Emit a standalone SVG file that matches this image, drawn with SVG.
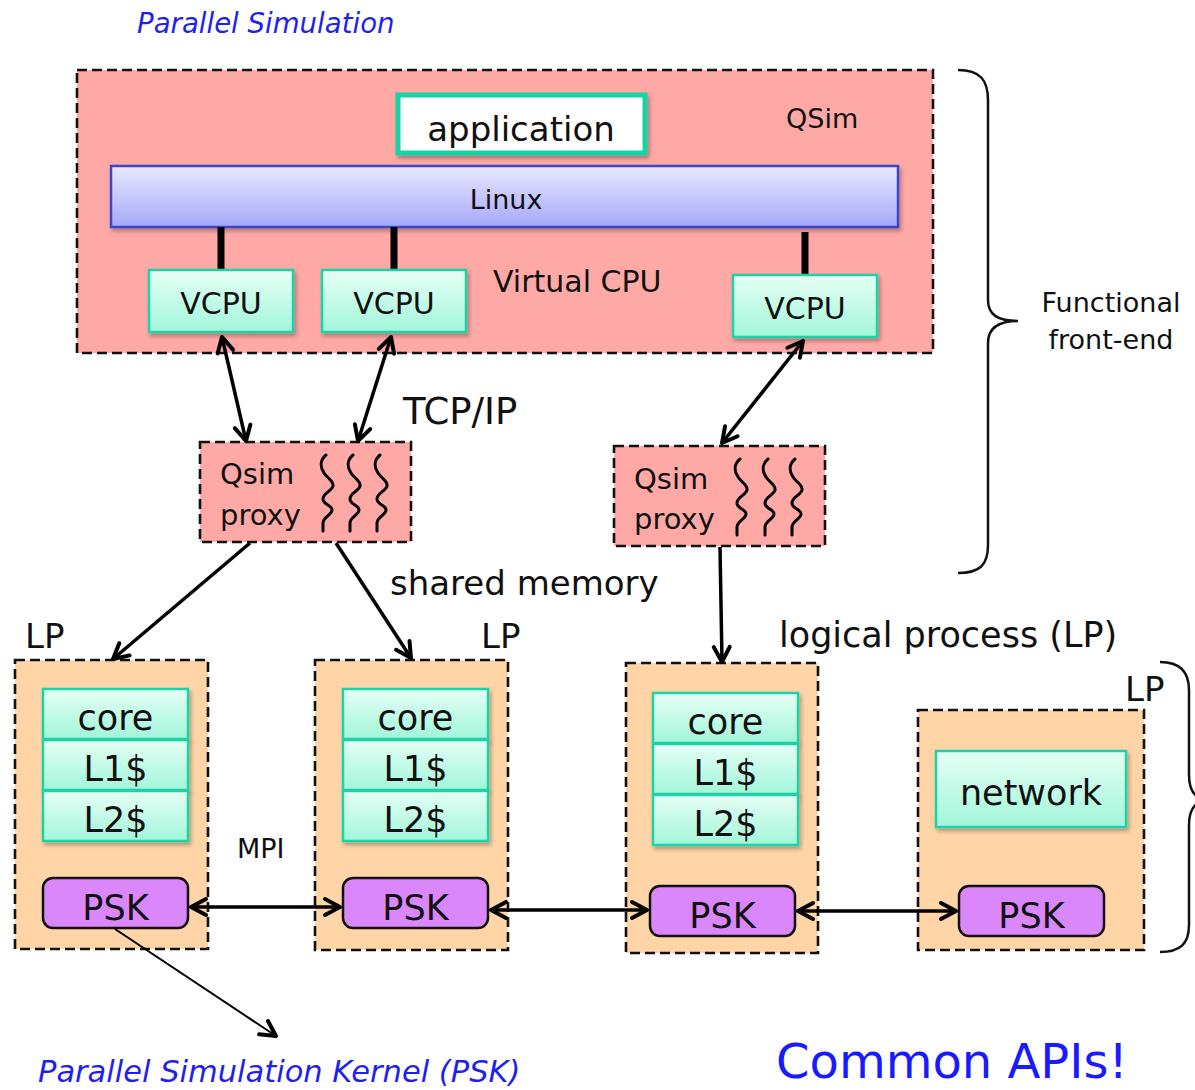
<svg xmlns="http://www.w3.org/2000/svg" width="1195" height="1090" viewBox="0 0 1195 1090">
  <defs>
    <style>
      text { font-family: "DejaVu Sans", Verdana, sans-serif; fill: #111; }
      .blue { fill: #1f1ff0; font-style: italic; }
      .dash { stroke: #111; stroke-width: 2.6; stroke-dasharray: 10 5; }
      .qsim { fill: #ffa9a6; }
      .lp { fill: #ffd5a8; }
      .mint { fill: url(#mintGrad); stroke: #1ed3a8; stroke-width: 2.5; filter: url(#shadow); }
      .psk { fill: #d987fa; stroke: #111; stroke-width: 2.5; }
      .conn { stroke: #000; stroke-width: 3.5; fill: none; }
      .squig { stroke: #000; stroke-width: 3; fill: none; stroke-linecap: round; }
      .brace { stroke: #111; stroke-width: 2.5; fill: none; }
      .mid { text-anchor: middle; }
    </style>
    <linearGradient id="mintGrad" x1="0" y1="0" x2="0" y2="1">
      <stop offset="0" stop-color="#e6fff5"/>
      <stop offset="1" stop-color="#a2f6da"/>
    </linearGradient>
    <linearGradient id="linuxGrad" x1="0" y1="0" x2="0" y2="1">
      <stop offset="0" stop-color="#e8e8ff"/>
      <stop offset="1" stop-color="#a6a8f8"/>
    </linearGradient>
    <filter id="shadow" x="-10%" y="-10%" width="130%" height="140%">
      <feDropShadow dx="2" dy="3" stdDeviation="2" flood-color="#000" flood-opacity="0.3"/>
    </filter>
    <marker id="arr" viewBox="0 0 22 22" refX="19" refY="11" markerWidth="22" markerHeight="22" markerUnits="userSpaceOnUse" orient="auto-start-reverse">
      <path d="M4,3 L19,11 L4,19" fill="none" stroke="#000" stroke-width="4" stroke-linecap="round" stroke-linejoin="round"/>
    </marker>
    <path id="squiggle" d="M3,0 C-3,5 -3,12 1,18 C5,24 11,26 10,31 C9,36 0,38 0,44 C0,50 9,50 9,55 C9,60 0,62 0,68 L0,76" class="squig"/>
  </defs>

  <text class="blue" x="137" y="33" font-size="27.6">Parallel Simulation</text>

  <!-- QSim host -->
  <g id="qsim">
    <rect class="qsim dash" x="77" y="70" width="856" height="283"/>
    <text x="786" y="128" font-size="27">QSim</text>
    <text x="493" y="292" font-size="30">Virtual CPU</text>
  </g>
  <g id="application">
    <rect x="398" y="95" width="247" height="58" fill="#fff" stroke="#14d3a6" stroke-width="5" filter="url(#shadow)"/>
    <text class="mid" x="521" y="141" font-size="34">application</text>
  </g>
  <g id="linux">
    <rect x="111" y="166" width="787" height="61" fill="url(#linuxGrad)" stroke="#3a46c8" stroke-width="2.5" filter="url(#shadow)"/>
    <text class="mid" x="506" y="209" font-size="27">Linux</text>
  </g>
  <g id="bus" stroke="#000" stroke-width="7">
    <line x1="221" y1="227" x2="221" y2="270"/>
    <line x1="394" y1="227" x2="394" y2="270"/>
    <line x1="805" y1="232" x2="805" y2="275"/>
  </g>
  <g id="vcpu1">
    <rect class="mint" x="149" y="270" width="144" height="62"/>
    <text class="mid" x="221" y="314" font-size="30">VCPU</text>
  </g>
  <g id="vcpu2">
    <rect class="mint" x="322" y="270" width="144" height="62"/>
    <text class="mid" x="394" y="314" font-size="30">VCPU</text>
  </g>
  <g id="vcpu3">
    <rect class="mint" x="733" y="275" width="144" height="62"/>
    <text class="mid" x="805" y="319" font-size="30">VCPU</text>
  </g>

  <!-- proxies -->
  <g id="proxy1">
    <rect class="qsim dash" x="200" y="442" width="211" height="100"/>
    <text x="220" y="484" font-size="29">Qsim</text>
    <text x="220" y="525" font-size="29">proxy</text>
    <use href="#squiggle" x="323" y="455"/>
    <use href="#squiggle" x="350" y="455"/>
    <use href="#squiggle" x="377" y="455"/>
  </g>
  <g id="proxy2">
    <rect class="qsim dash" x="614" y="446" width="211" height="100"/>
    <text x="634" y="489" font-size="29">Qsim</text>
    <text x="634" y="529" font-size="29">proxy</text>
    <use href="#squiggle" x="737" y="459"/>
    <use href="#squiggle" x="765" y="459"/>
    <use href="#squiggle" x="792" y="459"/>
  </g>

  <!-- logical processes -->
  <g id="lp1">
    <rect class="lp dash" x="15" y="660" width="193" height="289"/>
    <text x="25" y="648" font-size="34">LP</text>
    <rect class="mint" x="43" y="689" width="145" height="50"/>
    <rect class="mint" x="43" y="740" width="145" height="50"/>
    <rect class="mint" x="43" y="791" width="145" height="50"/>
    <text class="mid" x="115.5" y="730" font-size="35">core</text>
    <text class="mid" x="115.5" y="781" font-size="35">L1$</text>
    <text class="mid" x="115.5" y="832" font-size="35">L2$</text>
    <rect class="psk" x="43" y="878" width="145" height="50" rx="10"/>
    <text class="mid" x="115.5" y="920" font-size="35">PSK</text>
  </g>
  <g id="lp2">
    <rect class="lp dash" x="315" y="660" width="193" height="290"/>
    <text x="481" y="648" font-size="34">LP</text>
    <rect class="mint" x="343" y="689" width="145" height="50"/>
    <rect class="mint" x="343" y="740" width="145" height="50"/>
    <rect class="mint" x="343" y="791" width="145" height="50"/>
    <text class="mid" x="415.5" y="730" font-size="35">core</text>
    <text class="mid" x="415.5" y="781" font-size="35">L1$</text>
    <text class="mid" x="415.5" y="832" font-size="35">L2$</text>
    <rect class="psk" x="343" y="878" width="145" height="50" rx="10"/>
    <text class="mid" x="415.5" y="920" font-size="35">PSK</text>
  </g>
  <g id="lp3">
    <rect class="lp dash" x="626" y="663" width="192" height="290"/>
    <rect class="mint" x="653" y="693" width="145" height="50"/>
    <rect class="mint" x="653" y="744" width="145" height="50"/>
    <rect class="mint" x="653" y="795" width="145" height="50"/>
    <text class="mid" x="725.5" y="734" font-size="35">core</text>
    <text class="mid" x="725.5" y="785" font-size="35">L1$</text>
    <text class="mid" x="725.5" y="836" font-size="35">L2$</text>
    <rect class="psk" x="650" y="886" width="145" height="50" rx="10"/>
    <text class="mid" x="722.5" y="928" font-size="35">PSK</text>
  </g>
  <g id="lp4">
    <rect class="lp dash" x="918" y="710" width="226" height="240"/>
    <text x="1125" y="701" font-size="34">LP</text>
    <rect class="mint" x="936" y="751" width="190" height="76"/>
    <text class="mid" x="1031" y="805" font-size="35">network</text>
    <rect class="psk" x="959" y="886" width="145" height="50" rx="10"/>
    <text class="mid" x="1031.5" y="928" font-size="35">PSK</text>
  </g>

  <!-- connectors -->
  <g id="connectors">
    <line class="conn" x1="222" y1="337" x2="246" y2="441" marker-start="url(#arr)" marker-end="url(#arr)"/>
    <line class="conn" x1="391" y1="337" x2="358" y2="441" marker-start="url(#arr)" marker-end="url(#arr)"/>
    <line class="conn" x1="803" y1="341" x2="722" y2="443" marker-start="url(#arr)" marker-end="url(#arr)"/>
    <line class="conn" x1="250" y1="543" x2="113" y2="659" marker-end="url(#arr)"/>
    <line class="conn" x1="336" y1="543" x2="411" y2="658" marker-end="url(#arr)"/>
    <line class="conn" x1="720" y1="547" x2="722" y2="662" marker-end="url(#arr)"/>
    <line class="conn" x1="191" y1="907" x2="340" y2="907" marker-start="url(#arr)" marker-end="url(#arr)"/>
    <line class="conn" x1="491" y1="910" x2="647" y2="910" marker-start="url(#arr)" marker-end="url(#arr)"/>
    <line class="conn" x1="798" y1="911" x2="956" y2="911" marker-start="url(#arr)" marker-end="url(#arr)"/>
    <line x1="115" y1="929" x2="276" y2="1036" stroke="#000" stroke-width="2" marker-end="url(#arr)"/>
  </g>

  <!-- labels -->
  <text x="403" y="424" font-size="37">TCP/IP</text>
  <text x="390" y="595" font-size="34">shared memory</text>
  <text x="779" y="647" font-size="35">logical process (LP)</text>
  <text x="237" y="858" font-size="27">MPI</text>

  <!-- braces -->
  <path class="brace" d="M958,70 C980,70 988,80 988,100 L988,300 C988,315 998,321 1018,321 C998,321 988,328 988,343 L988,545 C988,565 980,573 958,573"/>
  <text class="mid" x="1111" y="312" font-size="27">Functional</text>
  <text class="mid" x="1111" y="349" font-size="27">front-end</text>
  <path class="brace" d="M1160,662 C1180,662 1189,672 1189,690 L1189,775 C1189,790 1195,798 1205,800 C1195,802 1189,810 1189,825 L1189,925 C1189,944 1180,952 1160,952"/>

  <text class="blue" x="38" y="1082" font-size="30.5">Parallel Simulation Kernel (PSK)</text>
  <text x="776" y="1078" font-size="48" style="fill:#1a1aff">Common APIs!</text>
</svg>
